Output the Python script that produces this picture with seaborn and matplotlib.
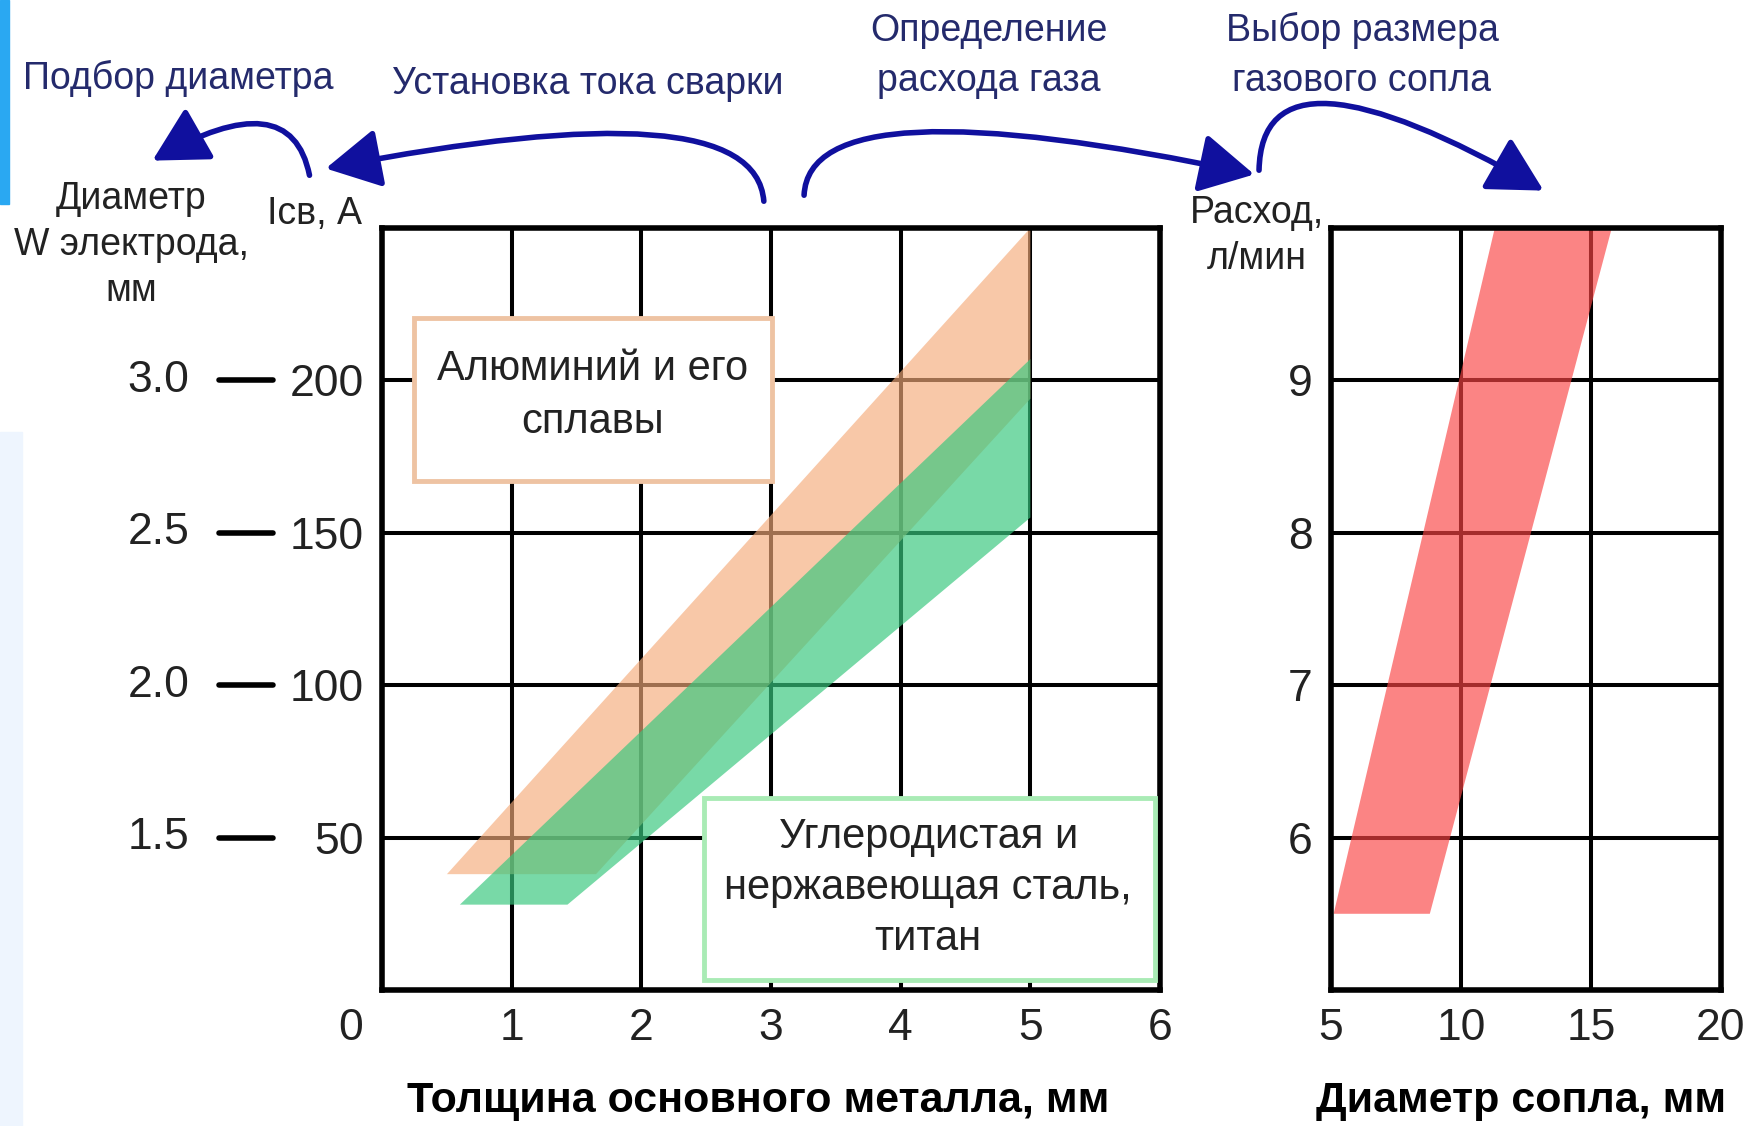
import matplotlib
matplotlib.use("Agg")
import matplotlib.pyplot as plt
import matplotlib.transforms as mtransforms
from matplotlib.patches import Rectangle, FancyArrowPatch
import seaborn as sns

# axis ticks
thickness_ticks = [0, 1, 2, 3, 4, 5, 6]
current_ticks = [50, 100, 150, 200]
electrode_labels = ["1.5", "2.0", "2.5", "3.0"]
nozzle_ticks = [5, 10, 15, 20]
flow_ticks = [6, 7, 8, 9]

# bands (corner points)
al_thickness = [0.5, 1.65, 5.0, 5.0]
al_current = [38, 38, 194, 250]
steel_thickness = [0.6, 1.43, 5.0, 5.0]
steel_current = [28, 28, 155, 207]
nozzle_diam = [5.1, 8.8, 15.8, 11.3]
gas_flow = [5.5, 5.5, 10.0, 10.0]

sns.set_theme(style="white")
plt.rcParams['font.family'] = ['Liberation Sans', 'DejaVu Sans']
navy = '#242a6c'
ink = '#222222'

fig = plt.figure(figsize=(17.47, 11.26), dpi=100)
fig.patch.set_facecolor('white')
ax = fig.add_axes([0.2187, 0.1208, 0.4453, 0.6767])
ax2 = fig.add_axes([0.7619, 0.1208, 0.2232, 0.6767])

for a in (ax, ax2):
    a.set_axisbelow(True)
    a.grid(True, color='black', lw=2.9)
    for s in a.spines.values():
        s.set_color('black')
        s.set_linewidth(4)
        s.set_visible(True)
    a.tick_params(length=0, labelsize=32, pad=13, colors=ink)

ax.fill(al_thickness, al_current, color='#f5ab7a', alpha=0.65, lw=0, zorder=2)
ax.fill(steel_thickness, steel_current, color='#38c77e', alpha=0.68, lw=0, zorder=2)
ax.set_xlim(0, 6)
ax.set_ylim(0, 250)
ax.set_xticks(thickness_ticks)
ax.set_yticks(current_ticks)

# shift the "0" label to the left of the corner
lbl0 = ax.get_xticklabels()[0]
lbl0.set_transform(lbl0.get_transform() + mtransforms.ScaledTranslation(-0.31, 0, fig.dpi_scale_trans))

ax2.fill(nozzle_diam, gas_flow, color='#fa4444', alpha=0.66, lw=0, zorder=2)
ax2.set_xlim(5, 20)
ax2.set_ylim(5, 10)
ax2.set_xticks(nozzle_ticks)
ax2.set_yticks(flow_ticks)

# electrode diameter scale next to current
bt = mtransforms.blended_transform_factory(ax.transAxes, ax.transData)
for v, lab in zip(current_ticks, electrode_labels):
    ax.text(-0.248, v, lab, transform=bt, ha='right', va='center', fontsize=32, color=ink)
    ax.plot([-0.2095, -0.140], [v, v], transform=bt, color='black', lw=4, clip_on=False)

# label boxes
ax.add_patch(Rectangle((0.041, 0.668), 0.46, 0.214, transform=ax.transAxes,
                       fc='white', ec='#eec3a3', lw=3.5, zorder=4))
ax.text(0.271, 0.780, "Алюминий и его\nсплавы", transform=ax.transAxes, ha='center', va='center',
        fontsize=30, linespacing=1.4, color=ink, zorder=5)
ax.add_patch(Rectangle((0.414, 0.013), 0.58, 0.239, transform=ax.transAxes,
                       fc='white', ec='#a9ebb5', lw=3.5, zorder=4))
ax.text(0.702, 0.134, "Углеродистая и\nнержавеющая сталь,\nтитан", transform=ax.transAxes,
        ha='center', va='center', fontsize=30, linespacing=1.35, color=ink, zorder=5)

# axis titles
fig.text(0.4339, 0.0222, "Толщина основного металла, мм", ha='center', va='center',
         fontsize=31, fontweight='bold', color='black')
fig.text(0.8706, 0.0222, "Диаметр сопла, мм", ha='center', va='center',
         fontsize=31, fontweight='bold', color='black')
fig.text(0.075, 0.7824, "Диаметр\nW электрода,\nмм", ha='center', va='center',
         fontsize=27, linespacing=1.35, color=ink)
fig.text(0.1803, 0.810, "Iсв, А", ha='center', va='center', fontsize=27, color=ink)
fig.text(0.7195, 0.7904, "Расход,\nл/мин", ha='center', va='center', fontsize=27,
         linespacing=1.35, color=ink)

# step labels on top
fig.text(0.1019, 0.9307, "Подбор диаметра", ha='center', va='center', fontsize=27, color=navy)
fig.text(0.3366, 0.9254, "Установка тока сварки", ha='center', va='center', fontsize=27, color=navy)
fig.text(0.5661, 0.9503, "Определение\nрасхода газа", ha='center', va='center', fontsize=27,
         linespacing=1.5, color=navy)
fig.text(0.7796, 0.9503, "Выбор размера\nгазового сопла", ha='center', va='center', fontsize=27,
         linespacing=1.5, color=navy)


def px(x, y):
    return (x / 1747, 1 - y / 1126)


arrows = [
    (px(310, 178), px(150, 162), "angle3,angleA=100,angleB=30"),
    (px(764, 204), px(323, 169), "angle3,angleA=92,angleB=11"),
    (px(804, 198), px(1257, 175), "angle3,angleA=90,angleB=-12"),
    (px(1259, 173), px(1546, 192), "angle3,angleA=90,angleB=-30"),
]
for start, end, cs in arrows:
    fig.patches.append(FancyArrowPatch(start, end, transform=fig.transFigure, connectionstyle=cs,
                                       arrowstyle="-|>,head_length=2.4,head_width=1.3",
                                       mutation_scale=14, color='#10109e', lw=4))

# slide decoration on the left edge
fig.patches.append(Rectangle((0, 1 - 204 / 1126), 9 / 1747, 204 / 1126, transform=fig.transFigure,
                             color='#2aa8f2', zorder=0))
fig.patches.append(Rectangle((0, 0), 22 / 1747, (1126 - 432) / 1126, transform=fig.transFigure,
                             color='#eef5fe', zorder=0))

fig.savefig("out.png", dpi=100)
